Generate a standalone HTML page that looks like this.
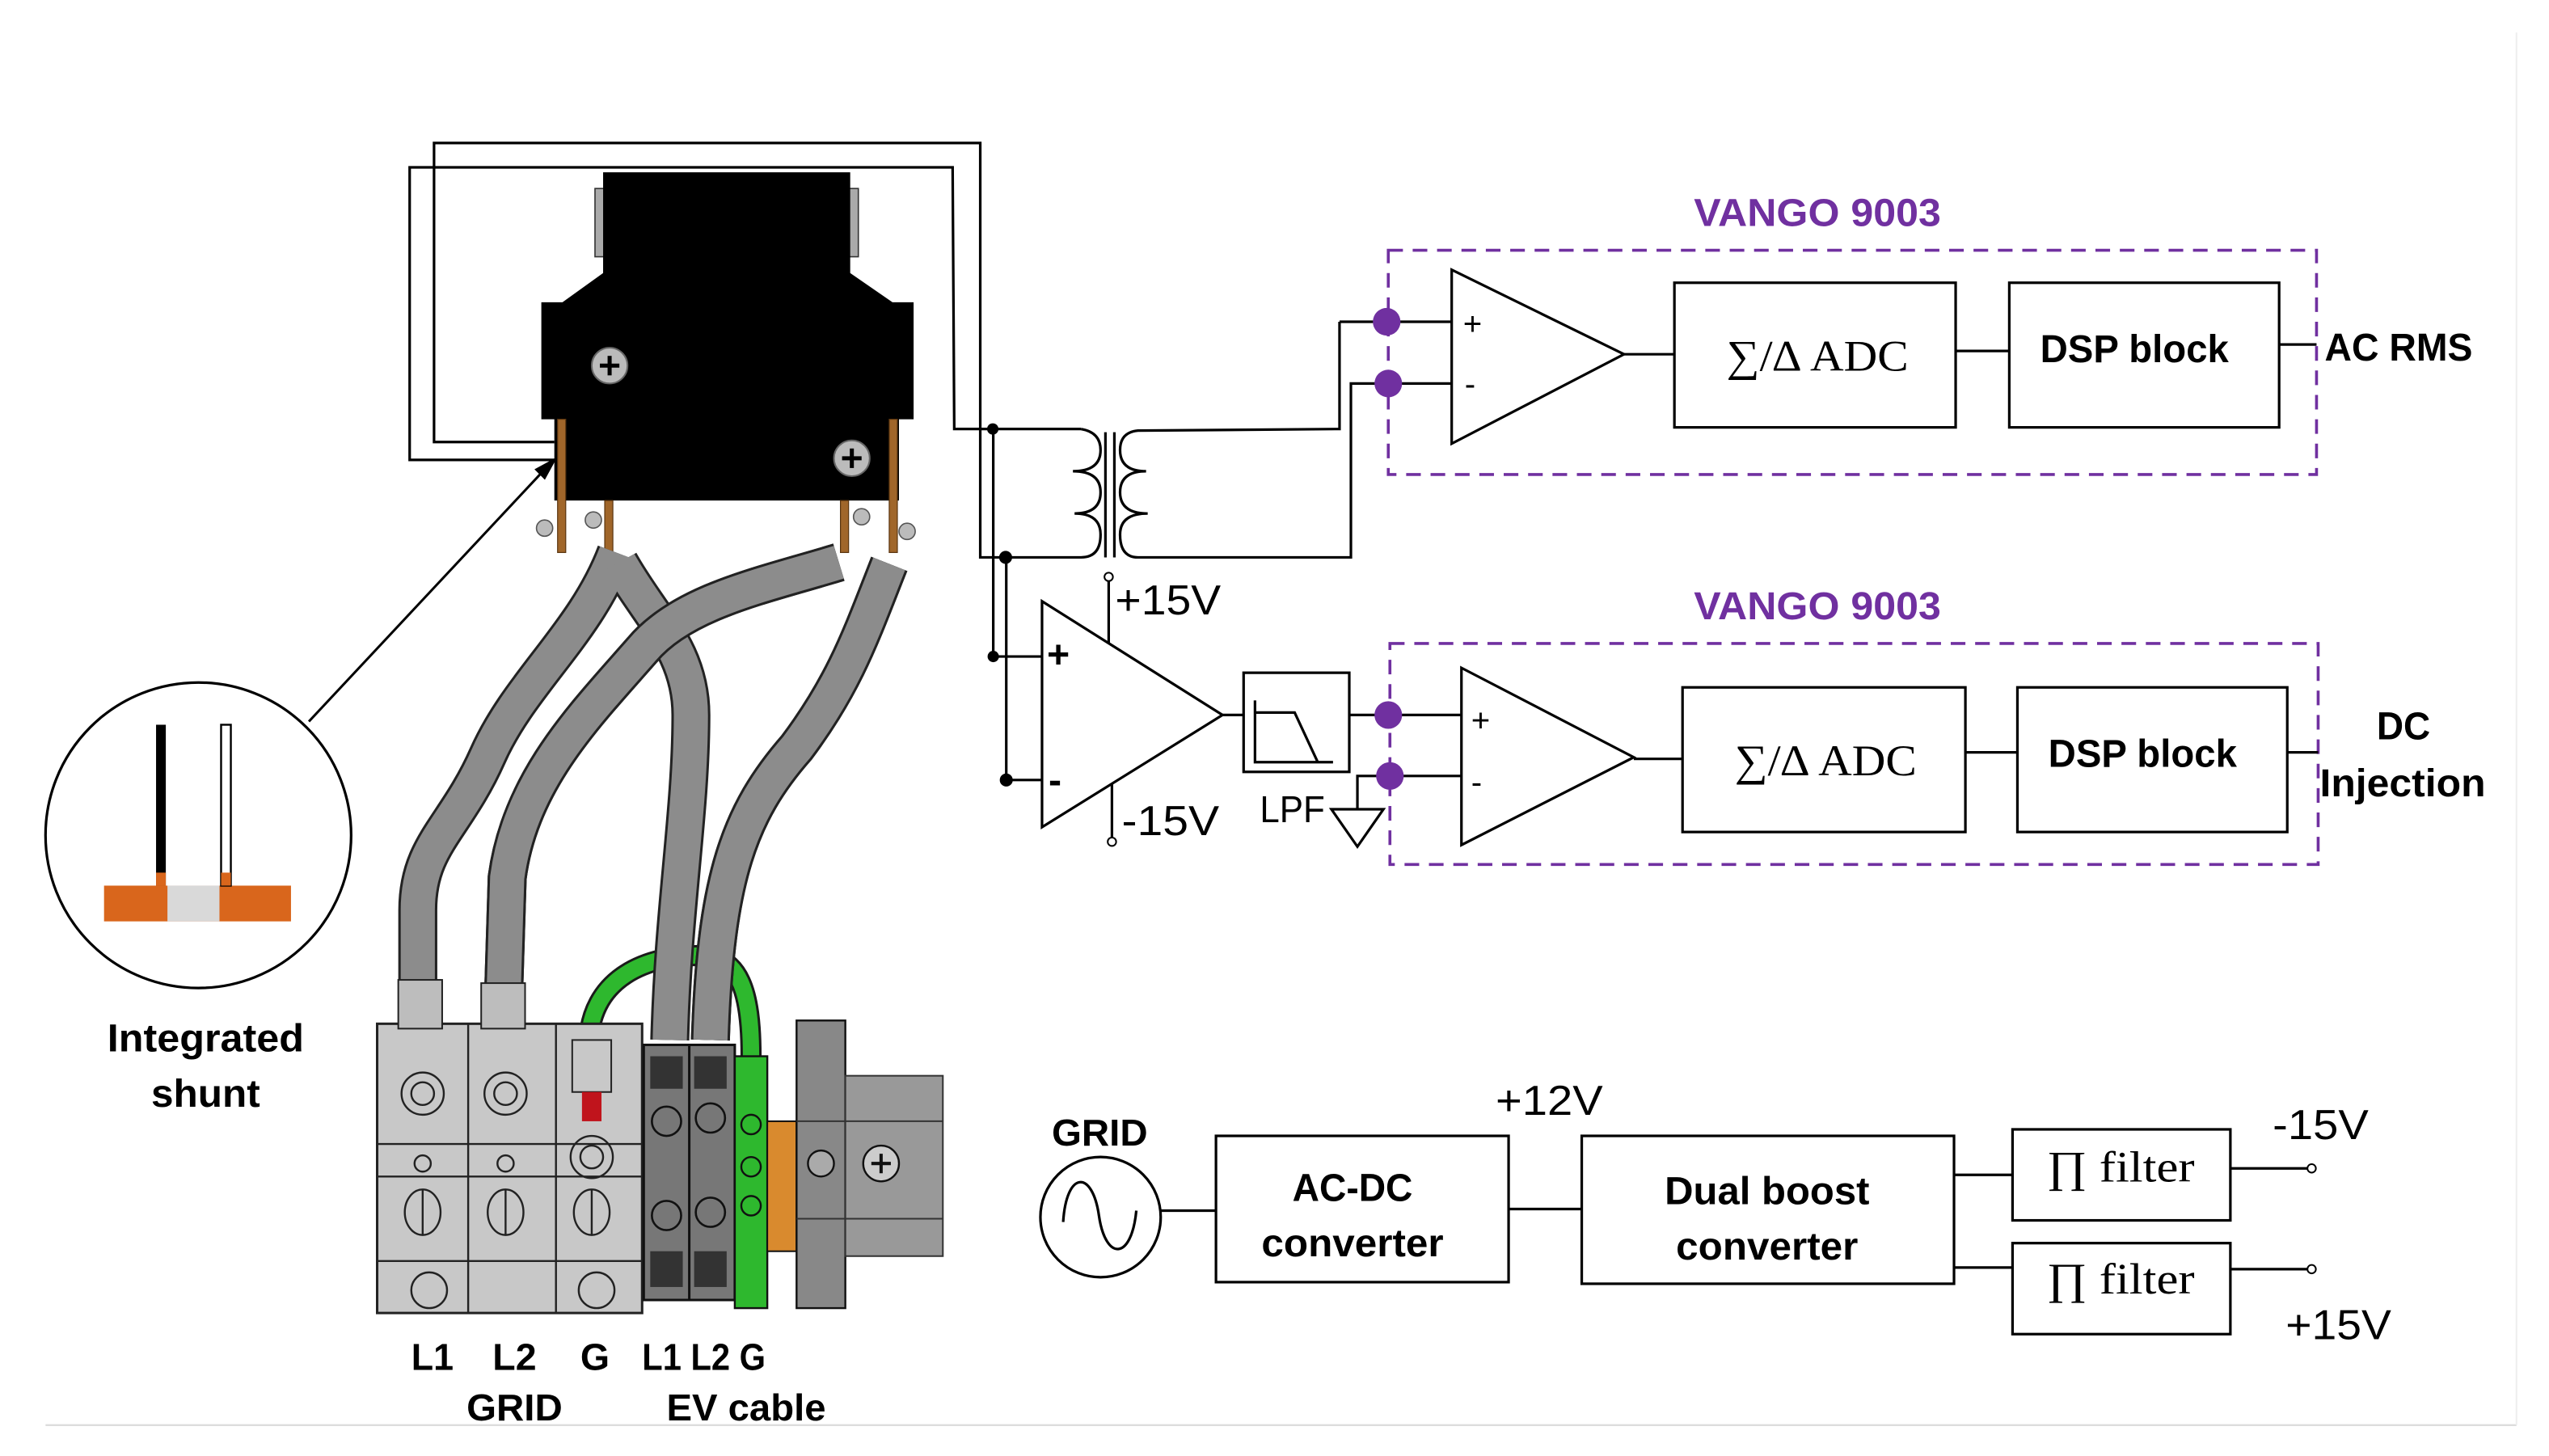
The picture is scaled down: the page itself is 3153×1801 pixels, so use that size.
<!DOCTYPE html>
<html><head><meta charset="utf-8"><style>html,body{margin:0;padding:0;background:#fff}svg{display:block}</style></head><body>
<svg width="3153" height="1801" viewBox="0 0 1568 896" preserveAspectRatio="none" xmlns="http://www.w3.org/2000/svg" font-family="Liberation Sans, sans-serif">
<rect width="1568" height="896" fill="#fff"/>
<line x1="28" y1="877" x2="1548" y2="877" stroke="#ddd" stroke-width="1.2"/>
<line x1="1548" y1="20" x2="1548" y2="877" stroke="#eee" stroke-width="1"/>

<!-- wire loops -->
<g fill="none" stroke="#000" stroke-width="1.6">
<polyline points="341,272 267,272 267,88 603,88 603,343 618,343"/>
<polyline points="341,283 252,283 252,103 586,103 587,264 665,264"/>
<polyline points="611,264 611,404 641,404"/>
<polyline points="619,343 619,480 641,480"/>
<path d="M665 264 Q677 266 677 277 Q677 290 660 290 Q677 290 677 303 Q677 316 661 316 Q677 316 677 329 Q677 343 665 343 L618 343"/>
<path d="M824 198 L824 264 L700 265 Q689 266 689 277 Q689 290 705 290 Q689 290 689 303 Q689 316 706 316 Q689 316 689 329 Q689 343 700 343 L831 343 L831 236 L853 236"/>
<line x1="824" y1="198" x2="853" y2="198"/>
<line x1="680" y1="266" x2="680" y2="343"/>
<line x1="685.5" y1="266" x2="685.5" y2="343"/>
</g>
<circle cx="610.7" cy="264" r="3.5"/><circle cx="618.6" cy="343" r="4"/>
<circle cx="611" cy="404" r="3.5"/><circle cx="619" cy="480" r="4"/>

<!-- opamp 1 (lower left) -->
<g fill="none" stroke="#000" stroke-width="1.6">
<polygon points="641,370 752,440 641,509" fill="#fff"/>
<line x1="682" y1="396" x2="682" y2="357"/>
<line x1="684" y1="482" x2="684" y2="515"/>
<line x1="752" y1="440" x2="765" y2="440"/>
<rect x="765" y="414" width="65" height="61"/>
<polyline points="772,431 772,469 820,469"/>
<polyline points="772,438.5 796.4,438.5 810.6,469"/>
<line x1="830" y1="440" x2="899" y2="440"/>
<polyline points="835,498 835,477.5 899,477.5"/>
<polygon points="819,498 851,498 835,521"/>
</g>
<circle cx="682" cy="355" r="2.6" fill="#fff" stroke="#000" stroke-width="1"/>
<circle cx="684" cy="518" r="2.6" fill="#fff" stroke="#000" stroke-width="1"/>
<text x="644" y="411" font-size="24" font-weight="bold">+</text>
<text x="645" y="488" font-size="24" font-weight="bold">-</text>
<text x="686" y="378" font-size="26" textLength="65" lengthAdjust="spacingAndGlyphs">+15V</text>
<text x="690" y="514" font-size="26" textLength="60" lengthAdjust="spacingAndGlyphs">-15V</text>
<text x="775" y="506" font-size="23" textLength="40" lengthAdjust="spacingAndGlyphs">LPF</text>

<!-- VANGO 1 -->
<text x="1042" y="139" font-size="24" font-weight="bold" fill="#7030A0" textLength="152" lengthAdjust="spacingAndGlyphs">VANGO 9003</text>
<rect x="854" y="154" width="571" height="138" fill="none" stroke="#7030A0" stroke-width="1.8" stroke-dasharray="9,6"/>
<g fill="none" stroke="#000" stroke-width="1.6">
<line x1="853" y1="198" x2="893" y2="198"/><line x1="853" y1="236" x2="893" y2="236"/>
<polygon points="893,166 999,218 893,273"/>
<line x1="999" y1="218" x2="1030" y2="218"/>
<rect x="1030" y="174" width="173" height="89"/>
<line x1="1203" y1="216" x2="1236" y2="216"/>
<rect x="1236" y="174" width="166" height="89"/>
<line x1="1402" y1="212" x2="1425" y2="212"/>
</g>
<circle cx="853" cy="198" r="8.5" fill="#7030A0"/><circle cx="854" cy="236" r="8.5" fill="#7030A0"/>
<text x="900" y="206" font-size="20">+</text><text x="901" y="243" font-size="20">-</text>
<text x="1062" y="228" font-size="27" font-family="Liberation Serif, serif" textLength="112" lengthAdjust="spacingAndGlyphs">∑/∆ ADC</text>
<text x="1255" y="223" font-size="24" font-weight="bold" textLength="116" lengthAdjust="spacingAndGlyphs">DSP block</text>
<text x="1430" y="222" font-size="24" font-weight="bold" textLength="91" lengthAdjust="spacingAndGlyphs">AC RMS</text>

<!-- VANGO 2 -->
<text x="1042" y="381" font-size="24" font-weight="bold" fill="#7030A0" textLength="152" lengthAdjust="spacingAndGlyphs">VANGO 9003</text>
<rect x="855" y="396" width="571" height="136" fill="none" stroke="#7030A0" stroke-width="1.8" stroke-dasharray="9,6"/>
<g fill="none" stroke="#000" stroke-width="1.6">
<polygon points="899,411 1005,466 899,520"/>
<line x1="1005" y1="467" x2="1035" y2="467"/>
<rect x="1035" y="423" width="174" height="89"/>
<line x1="1209" y1="463" x2="1241" y2="463"/>
<rect x="1241" y="423" width="166" height="89"/>
<line x1="1407" y1="463" x2="1426" y2="463"/>
</g>
<circle cx="854" cy="440" r="8.5" fill="#7030A0"/><circle cx="855" cy="477.5" r="8.5" fill="#7030A0"/>
<text x="905" y="450" font-size="20">+</text><text x="905" y="488" font-size="20">-</text>
<text x="1067" y="477" font-size="27" font-family="Liberation Serif, serif" textLength="112" lengthAdjust="spacingAndGlyphs">∑/∆ ADC</text>
<text x="1260" y="472" font-size="24" font-weight="bold" textLength="116" lengthAdjust="spacingAndGlyphs">DSP block</text>
<text x="1462" y="455" font-size="24" font-weight="bold" textLength="33" lengthAdjust="spacingAndGlyphs">DC</text>
<text x="1427" y="490" font-size="24" font-weight="bold" textLength="102" lengthAdjust="spacingAndGlyphs">Injection</text>

<!-- power section -->
<text x="647" y="705" font-size="23" font-weight="bold" textLength="59" lengthAdjust="spacingAndGlyphs">GRID</text>
<g fill="none" stroke="#000" stroke-width="1.6">
<circle cx="677" cy="749" r="37"/>
<path d="M654 752 C656 720 672 720 676 748 C680 776 696 776 699 745"/>
<line x1="714" y1="745" x2="748" y2="745"/>
<rect x="748" y="699" width="180" height="90"/>
<line x1="928" y1="744" x2="973" y2="744"/>
<rect x="973" y="699" width="229" height="91"/>
<line x1="1202" y1="723" x2="1238" y2="723"/>
<line x1="1202" y1="780" x2="1238" y2="780"/>
<rect x="1238" y="695" width="134" height="56"/>
<rect x="1238" y="765" width="134" height="56"/>
<line x1="1372" y1="719" x2="1420" y2="719"/>
<line x1="1372" y1="781" x2="1420" y2="781"/>
</g>
<circle cx="1422" cy="719" r="2.6" fill="#fff" stroke="#000" stroke-width="1"/>
<circle cx="1422" cy="781" r="2.6" fill="#fff" stroke="#000" stroke-width="1"/>
<text x="795" y="739" font-size="24" font-weight="bold" textLength="74" lengthAdjust="spacingAndGlyphs">AC-DC</text>
<text x="776" y="773" font-size="24" font-weight="bold" textLength="112" lengthAdjust="spacingAndGlyphs">converter</text>
<text x="1024" y="741" font-size="24" font-weight="bold" textLength="126" lengthAdjust="spacingAndGlyphs">Dual boost</text>
<text x="1031" y="775" font-size="24" font-weight="bold" textLength="112" lengthAdjust="spacingAndGlyphs">converter</text>
<text x="920" y="686" font-size="26" textLength="66" lengthAdjust="spacingAndGlyphs">+12V</text>
<text x="1259" y="727" font-size="27" font-family="Liberation Serif, serif" textLength="91" lengthAdjust="spacingAndGlyphs">∏ filter</text>
<text x="1259" y="796" font-size="27" font-family="Liberation Serif, serif" textLength="91" lengthAdjust="spacingAndGlyphs">∏ filter</text>
<text x="1398" y="701" font-size="26" textLength="59" lengthAdjust="spacingAndGlyphs">-15V</text>
<text x="1406" y="824" font-size="26" textLength="65" lengthAdjust="spacingAndGlyphs">+15V</text>

<!-- integrated shunt -->
<circle cx="122" cy="514" r="94" fill="#fff" stroke="#000" stroke-width="1.6"/>
<rect x="64" y="545" width="115" height="22" fill="#d9661c"/>
<rect x="103" y="545" width="32" height="22" fill="#d9d9d9"/>
<rect x="96" y="446" width="6" height="99" fill="#000"/>
<rect x="96" y="537" width="6" height="8" fill="#d9661c"/>
<rect x="136" y="446" width="6" height="99" fill="#fff" stroke="#000" stroke-width="1.2"/>
<rect x="136" y="537" width="6" height="8" fill="#d9661c"/>
<line x1="190" y1="444" x2="334" y2="290" stroke="#000" stroke-width="1.5"/>
<polygon points="341,283 330,289 335,294" fill="#000" stroke="#000" stroke-width="1.5"/>
<text x="66" y="647" font-size="24" font-weight="bold" textLength="121" lengthAdjust="spacingAndGlyphs">Integrated</text>
<text x="93" y="681" font-size="24" font-weight="bold" textLength="67" lengthAdjust="spacingAndGlyphs">shunt</text>

<!-- connector body -->
<rect x="366" y="116" width="6" height="42" fill="#aaa" stroke="#333" stroke-width="0.8"/>
<rect x="522" y="116" width="6" height="42" fill="#aaa" stroke="#333" stroke-width="0.8"/>
<path d="M371 106 L523 106 L523 168 L549 186 L562 186 L562 258 L553 258 L553 308 L341 308 L341 258 L333 258 L333 186 L346 186 L371 168 Z" fill="#000"/>
<g fill="#bbb" stroke="#666" stroke-width="1">
<circle cx="375" cy="225" r="11"/><circle cx="524" cy="282" r="11"/>
</g>
<g stroke="#000" stroke-width="2.5"><line x1="369" y1="225" x2="381" y2="225"/><line x1="375" y1="219" x2="375" y2="231"/><line x1="518" y1="282" x2="530" y2="282"/><line x1="524" y1="276" x2="524" y2="288"/></g>
<g fill="#a0662a" stroke="#5a3510" stroke-width="0.6">
<rect x="343" y="258" width="5" height="82"/><rect x="372" y="308" width="5" height="32"/>
<rect x="517" y="308" width="5" height="32"/><rect x="547" y="258" width="5" height="82"/>
</g>
<g fill="#bbb" stroke="#555" stroke-width="0.8">
<circle cx="335" cy="325" r="5"/><circle cx="365" cy="320" r="5"/><circle cx="530" cy="318" r="5"/><circle cx="558" cy="327" r="5"/>
</g>

<!-- green wire -->
<path d="M362 645 C362 600 400 588 430 588 C455 588 462 610 462 650" fill="none" stroke="#1a1a1a" stroke-width="13"/>
<path d="M362 645 C362 600 400 588 430 588 C455 588 462 610 462 650" fill="none" stroke="#2eb82e" stroke-width="10"/>

<!-- cables -->
<g fill="none" stroke-linecap="butt">
<g stroke="#222" stroke-width="24">
<path d="M379 340 C360 390 320 420 300 465 C280 510 257 520 257 560 L257 605"/>
<path d="M516 346 C470 360 420 370 395 400 C360 440 320 480 312 540 L310 605"/>
<path d="M381 346 C400 380 425 400 425 440 C425 500 414 560 412 640"/>
<path d="M547 347 C530 390 520 420 490 460 C455 500 440 540 437 640"/>
</g>
<g stroke="#8c8c8c" stroke-width="21">
<path d="M379 340 C360 390 320 420 300 465 C280 510 257 520 257 560 L257 605"/>
<path d="M381 346 C400 380 425 400 425 440 C425 500 414 560 412 640"/>
</g>
<path d="M516 346 C470 360 420 370 395 400 C360 440 320 480 312 540 L310 605" stroke="#222" stroke-width="24"/>
<path d="M516 346 C470 360 420 370 395 400 C360 440 320 480 312 540 L310 605" stroke="#8c8c8c" stroke-width="21"/>
<path d="M547 347 C530 390 520 420 490 460 C455 500 440 540 437 640" stroke="#222" stroke-width="24"/>
<path d="M547 347 C530 390 520 420 490 460 C455 500 440 540 437 640" stroke="#8c8c8c" stroke-width="21"/>
</g>

<!-- terminal blocks -->
<rect x="232" y="630" width="163" height="178" fill="#c8c8c8" stroke="#222" stroke-width="1.5"/>
<g stroke="#222" stroke-width="1.2" fill="none">
<line x1="288" y1="630" x2="288" y2="808"/><line x1="342" y1="630" x2="342" y2="808"/>
<line x1="232" y1="704" x2="395" y2="704"/><line x1="232" y1="724" x2="395" y2="724"/><line x1="232" y1="776" x2="395" y2="776"/>
<circle cx="260" cy="673" r="13"/><circle cx="260" cy="673" r="7"/>
<circle cx="311" cy="673" r="13"/><circle cx="311" cy="673" r="7"/>
<circle cx="364" cy="712" r="13"/><circle cx="364" cy="712" r="7"/>
<circle cx="260" cy="716" r="5"/><circle cx="311" cy="716" r="5"/>
<ellipse cx="260" cy="746" rx="11" ry="14"/><ellipse cx="311" cy="746" rx="11" ry="14"/><ellipse cx="364" cy="746" rx="11" ry="14"/>
<line x1="260" y1="732" x2="260" y2="760"/><line x1="311" y1="732" x2="311" y2="760"/><line x1="364" y1="732" x2="364" y2="760"/>
<circle cx="264" cy="794" r="11"/><circle cx="367" cy="794" r="11"/>
</g>
<rect x="245" y="603" width="27" height="30" fill="#bdbdbd" stroke="#222" stroke-width="1"/>
<rect x="296" y="605" width="27" height="28" fill="#bdbdbd" stroke="#222" stroke-width="1"/>
<rect x="352" y="640" width="24" height="32" fill="#c8c8c8" stroke="#222" stroke-width="1"/>
<rect x="358" y="672" width="12" height="18" fill="#c0141c"/>
<rect x="396" y="643" width="56" height="157" fill="#777" stroke="#111" stroke-width="1.5"/>
<line x1="424" y1="643" x2="424" y2="800" stroke="#111" stroke-width="1.5"/>
<g fill="none" stroke="#111" stroke-width="1.3">
<circle cx="410" cy="690" r="9"/><circle cx="437" cy="688" r="9"/><circle cx="410" cy="748" r="9"/><circle cx="437" cy="746" r="9"/>
</g>
<rect x="400" y="650" width="20" height="20" fill="#333"/><rect x="427" y="650" width="20" height="20" fill="#333"/>
<rect x="400" y="770" width="20" height="22" fill="#333"/><rect x="427" y="770" width="20" height="22" fill="#333"/>
<rect x="452" y="650" width="20" height="155" fill="#2eb82e" stroke="#111" stroke-width="1.2"/>
<g fill="none" stroke="#111" stroke-width="1.2"><circle cx="462" cy="692" r="6"/><circle cx="462" cy="718" r="6"/><circle cx="462" cy="742" r="6"/></g>
<rect x="472" y="690" width="18" height="80" fill="#d98a2e" stroke="#111" stroke-width="1"/>
<rect x="490" y="628" width="30" height="177" fill="#888" stroke="#111" stroke-width="1.2"/>
<rect x="520" y="662" width="60" height="111" fill="#999" stroke="#333" stroke-width="1"/>
<line x1="490" y1="690" x2="580" y2="690" stroke="#333" stroke-width="1"/>
<line x1="490" y1="750" x2="580" y2="750" stroke="#333" stroke-width="1"/>
<circle cx="505" cy="716" r="8" fill="#aaa" stroke="#111" stroke-width="1.2"/>
<circle cx="542" cy="716" r="11" fill="#ccc" stroke="#111" stroke-width="1.2"/>
<g stroke="#111" stroke-width="2"><line x1="536" y1="716" x2="548" y2="716"/><line x1="542" y1="710" x2="542" y2="722"/></g>

<!-- bottom labels -->
<g font-size="23" font-weight="bold">
<text x="253" y="843" textLength="26" lengthAdjust="spacingAndGlyphs">L1</text>
<text x="303" y="843" textLength="27" lengthAdjust="spacingAndGlyphs">L2</text>
<text x="357" y="843" textLength="18" lengthAdjust="spacingAndGlyphs">G</text>
<text x="395" y="843" textLength="76" lengthAdjust="spacingAndGlyphs">L1 L2 G</text>
<text x="287" y="874" textLength="59" lengthAdjust="spacingAndGlyphs">GRID</text>
<text x="410" y="874" textLength="98" lengthAdjust="spacingAndGlyphs">EV cable</text>
</g>
</svg>
</body></html>
